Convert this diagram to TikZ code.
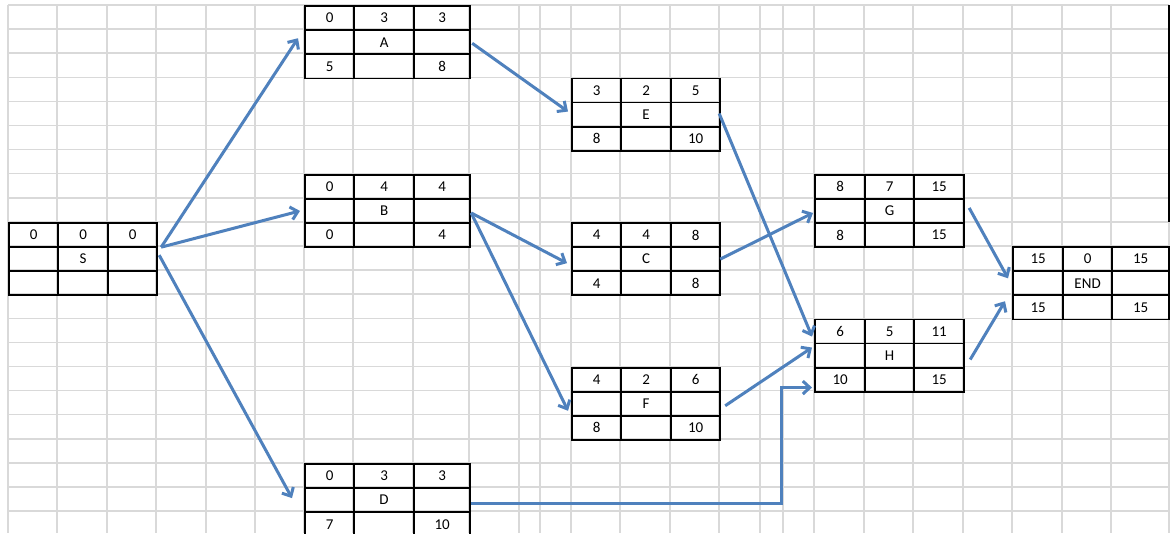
\documentclass[tikz,border=0pt]{standalone}
\usepackage{fontspec}
\setmainfont{Carlito}
\usepackage{tikz}
\usetikzlibrary{matrix, arrows.meta}

\definecolor{gridgray}{RGB}{217,217,217}
\definecolor{linkblue}{RGB}{79,129,189}

\begin{document}
\begin{tikzpicture}[
        x=1pt, y=-1pt,
        gridline/.style={draw=gridgray, line width=1.5pt},
        actbox/.style={matrix of nodes, nodes in empty cells, anchor=north west, inner sep=0pt,
            column sep=-1.8pt, row sep=-1.8pt,
            nodes={rectangle, draw=black, line width=1.8pt, minimum height=24.1pt, inner sep=0pt,
                anchor=center, font=\fontsize{15}{18}\selectfont}},
        cols/.style n args={3}{column 1/.style={nodes={minimum width=#1}},
            column 2/.style={nodes={minimum width=#2}}, column 3/.style={nodes={minimum width=#3}}},
        arrow/.style={-{Straight Barb[length=7pt, width=13pt]}, draw=linkblue, line width=3pt}
    ]
        \useasboundingbox (0,0) rectangle (1173,533);
        \fill[white] (0,0) rectangle (1173,533);

        % Spreadsheet grid
        \foreach \gx in {8,57,107,156,206,255,304,353,413,469,519,540,571,620,670,719,760,783,814,864,913,963,1012,1062,1111,1169}
            \draw[gridline] (\gx,5) -- (\gx,533);
        \foreach \k in {0,...,21}
            \draw[gridline] (8,{5+24.1*\k}) -- (1169,{5+24.1*\k});
        \draw[line width=1.8pt] (1169,5) -- (1169,222);

        % Start
        \matrix (S) [actbox, cols={49}{50}{49}] at (8,221.9) {
            0 & 0 & 0 \\
              & S &   \\
              &   &   \\
        };

        % Column A, B, D
        \matrix (A) [actbox, cols={49}{60}{56}] at (304,5) {
            0 & 3 & 3 \\
              & A &   \\
            5 &   & 8 \\
        };
        \matrix (B) [actbox, cols={49}{60}{56}] at (304,173.7) {
            0 & 4 & 4 \\
              & B &   \\
            0 &   & 4 \\
        };
        \matrix (D) [actbox, cols={49}{60}{56}] at (304,462.9) {
            0 & 3 & 3  \\
              & D &    \\
            7 &   & 10 \\
        };

        % Column E, C, F
        \matrix (E) [actbox, cols={49}{50}{49}] at (571,77.3) {
            3 & 2 & 5  \\
              & E &    \\
            8 &   & 10 \\
        };
        \matrix (C) [actbox, cols={49}{50}{49}] at (571,221.9) {
            4 & 4 & 8 \\
              & C &   \\
            4 &   & 8 \\
        };
        \matrix (F) [actbox, cols={49}{50}{49}] at (571,366.5) {
            4 & 2 & 6  \\
              & F &    \\
            8 &   & 10 \\
        };

        % Column G, H
        \matrix (G) [actbox, cols={50}{49}{50}] at (814,173.7) {
            8 & 7 & 15 \\
              & G &    \\
            8 &   & 15 \\
        };
        \matrix (H) [actbox, cols={50}{49}{50}] at (814,318.3) {
            6  & 5 & 11 \\
               & H &    \\
            10 &   & 15 \\
        };

        % Finish
        \matrix (END) [actbox, cols={50}{49}{57}] at (1012,246) {
            15 & 0   & 15 \\
               & END &    \\
            15 &     & 15 \\
        };

        % Arrows
        \draw[arrow] ([shift={(3,-12)}]S.east) -- ([shift={(-6,-4)}]A.west);
        \draw[arrow] ([shift={(3,-12)}]S.east) -- ([shift={(-4,0)}]B.west);
        \draw[arrow] ([shift={(1,-4)}]S.east) -- ([shift={(-12,-2)}]D.west);
        \draw[arrow] ([shift={(1,1)}]A.east) -- ([shift={(-3,-3)}]E.west);
        \draw[arrow] ([shift={(0,2)}]B.east) -- ([shift={(-4,4)}]C.west);
        \draw[arrow] ([shift={(0,2)}]B.east) -- ([shift={(-3,7)}]F.west);
        \draw[arrow] ([shift={(-2,-1)}]E.east) -- ([shift={(-2,-19)}]H.west);
        \draw[arrow] ([shift={(-1,0)}]C.east) -- ([shift={(-1,2)}]G.west);
        \draw[arrow] ([shift={(4,2)}]F.east) -- ([shift={(-2,-8)}]H.west);
        \draw[arrow] ([shift={(0,3)}]D.east) -| ([shift={(-33,32)}]H.west) -- ([shift={(-2,32)}]H.west);
        \draw[arrow] ([shift={(4,-3)}]G.east) -- ([shift={(-4,-5)}]END.west);
        \draw[arrow] ([shift={(5,4)}]H.east) -- ([shift={(-7,18)}]END.west);
\end{tikzpicture}
\end{document}
